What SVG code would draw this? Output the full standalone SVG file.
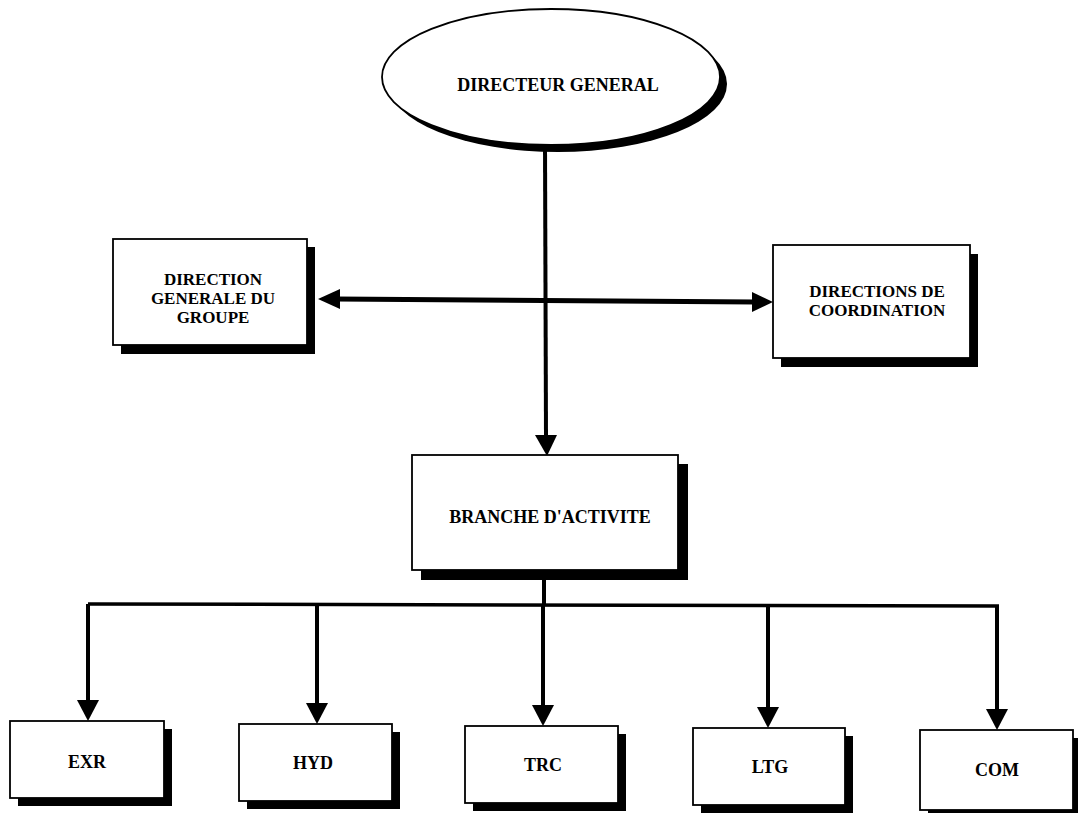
<svg xmlns="http://www.w3.org/2000/svg" width="1078" height="813" viewBox="0 0 1078 813">
<style>
.box{fill:#fff;stroke:#000;stroke-width:1.8}
.shadow{fill:#000}
.t{font-family:"Liberation Serif","Times New Roman",serif;font-weight:bold;font-size:18px;fill:#000;text-anchor:middle}
.m{font-size:17px}
.ln{stroke:#000;fill:none}
</style>
<rect width="1078" height="813" fill="#fff"/>
<g id="connectors">
<line class="ln" x1="545" y1="145" x2="546" y2="437" stroke-width="4"/>
<path d="M535,435 L557,435 L547,456 Z" fill="#000"/>
<line class="ln" x1="336" y1="299" x2="755" y2="302" stroke-width="5"/>
<path d="M318,299 L340,289 L340,309 Z" fill="#000"/>
<path d="M773,302 L752,292 L752,312 Z" fill="#000"/>
<line class="ln" x1="544" y1="580" x2="544" y2="605" stroke-width="4"/>
<line class="ln" x1="88" y1="604" x2="999" y2="606" stroke-width="3.5"/>
<line class="ln" x1="88" y1="604" x2="88" y2="702" stroke-width="4"/>
<path d="M77,700 L99,700 L88,721 Z" fill="#000"/>
<line class="ln" x1="317" y1="604" x2="317" y2="705" stroke-width="4"/>
<path d="M306,703 L328,703 L317,724 Z" fill="#000"/>
<line class="ln" x1="543" y1="605" x2="543" y2="707" stroke-width="4"/>
<path d="M532,705 L554,705 L543,726 Z" fill="#000"/>
<line class="ln" x1="768" y1="605" x2="768" y2="709" stroke-width="4"/>
<path d="M757,707 L779,707 L768,728 Z" fill="#000"/>
<line class="ln" x1="997" y1="606" x2="997" y2="711" stroke-width="4"/>
<path d="M986,709 L1008,709 L997,730 Z" fill="#000"/>
</g>
<g id="directeur-general">
<ellipse cx="558" cy="84" rx="169" ry="68" class="shadow"/>
<ellipse cx="551" cy="77" rx="169" ry="68" class="box"/>
<text class="t" x="558" y="91">DIRECTEUR GENERAL</text>
</g>
<g id="direction-generale-groupe">
<rect x="121" y="247" width="194" height="107" class="shadow"/>
<rect x="113" y="239" width="194" height="106" class="box"/>
<text class="t m" x="213" y="285">DIRECTION</text>
<text class="t m" x="213" y="304">GENERALE DU</text>
<text class="t m" x="213" y="323">GROUPE</text>
</g>
<g id="directions-coordination">
<rect x="781" y="254" width="197" height="113" class="shadow"/>
<rect x="773" y="245" width="197" height="113" class="box"/>
<text class="t m" x="877" y="297">DIRECTIONS DE</text>
<text class="t m" x="877" y="316">COORDINATION</text>
</g>
<g id="branche-activite">
<rect x="421" y="464" width="267" height="116" class="shadow"/>
<rect x="412" y="455" width="266" height="115" class="box"/>
<text class="t" x="550" y="523">BRANCHE D'ACTIVITE</text>
</g>
<g id="exr">
<rect x="18" y="729" width="154" height="77" class="shadow"/>
<rect x="10" y="721" width="154" height="77" class="box"/>
<text class="t" x="87" y="768">EXR</text>
</g>
<g id="hyd">
<rect x="247" y="732" width="153" height="77" class="shadow"/>
<rect x="239" y="724" width="153" height="77" class="box"/>
<text class="t" x="313" y="769">HYD</text>
</g>
<g id="trc">
<rect x="473" y="734" width="153" height="77" class="shadow"/>
<rect x="465" y="726" width="153" height="77" class="box"/>
<text class="t" x="543" y="771">TRC</text>
</g>
<g id="ltg">
<rect x="701" y="736" width="152" height="77" class="shadow"/>
<rect x="693" y="728" width="152" height="77" class="box"/>
<text class="t" x="770" y="773">LTG</text>
</g>
<g id="com">
<rect x="928" y="738" width="153" height="80" class="shadow"/>
<rect x="920" y="730" width="153" height="80" class="box"/>
<text class="t" x="997" y="776">COM</text>
</g>
</svg>
